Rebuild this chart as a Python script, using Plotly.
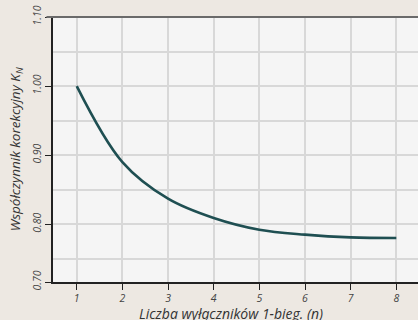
import plotly.graph_objects as go

# liczba wyłączników 1-biegunowych
n = [1, 2, 3, 4, 5, 6, 7, 8]
# współczynnik korekcyjny K_N
k_n = [1.000, 0.890, 0.837, 0.809, 0.792, 0.785, 0.781, 0.780]

# y axis in the original is cut a bit above 0.70 - label sits on the axis line
y_bottom = 0.7164
y_tick_vals = [y_bottom, 0.80, 0.90, 1.00, 1.10]
y_tick_text = ["0.70", "0.80", "0.90", "1.00", "1.10"]
y_minor_grid = [0.75, 0.85, 0.95, 1.05]

x_title = "Liczba wyłączników 1-bieg. (n)"
y_title = "Współczynnik korekcyjny K<sub>N</sub>"

fig = go.Figure()
fig.add_trace(go.Scatter(
    x=n, y=k_n,
    mode="lines",
    line=dict(color="#1f4f52", width=2.6, shape="spline", smoothing=1.0),
    hoverinfo="skip",
))

font_family = "Open Sans, Noto Sans, sans-serif"
tick_font = dict(size=10.5, family=font_family, style="italic", color="#444")

fig.update_layout(
    width=418, height=320,
    margin=dict(l=53, r=0, t=17, b=38),
    paper_bgcolor="#ede8e2",
    plot_bgcolor="#f5f5f5",
    showlegend=False,
    font=dict(family=font_family, color="#333333"),
    xaxis=dict(
        range=[0.48, 8.475],
        tickvals=n,
        automargin=False,
        ticks="outside", ticklen=6, tickwidth=1.3, tickcolor="#222",
        showline=True, linecolor="#222", linewidth=1.6,
        showgrid=True, gridcolor="#d8d8d8", gridwidth=1.6,
        zeroline=False,
        tickfont=tick_font,
    ),
    yaxis=dict(
        range=[y_bottom, 1.10],
        tickvals=y_tick_vals, ticktext=y_tick_text,
        tickangle=-90,
        automargin=False,
        ticks="outside", ticklen=6, tickwidth=1.3, tickcolor="#222",
        showline=True, linecolor="#222", linewidth=1.6,
        showgrid=True, gridcolor="#d8d8d8", gridwidth=1.6,
        zeroline=False,
        minor=dict(tickvals=y_minor_grid, showgrid=True, gridcolor="#d8d8d8",
                   gridwidth=1.6, ticks=""),
        tickfont=tick_font,
    ),
)

# tytuły osi jako adnotacje
fig.add_annotation(text=x_title, xref="paper", yref="paper",
                   x=0.488, y=-0.117, yanchor="middle", showarrow=False,
                   font=dict(size=14, style="italic", color="#333"))
fig.add_annotation(text=y_title, xref="paper", yref="paper",
                   x=-0.102, y=0.5, xanchor="center", yanchor="middle",
                   textangle=-90, showarrow=False,
                   font=dict(size=13.5, style="italic", color="#333"))

# górna krawędź wykresu (szara linia)
fig.add_shape(type="line", xref="paper", yref="paper",
              x0=-0.018, x1=1, y0=1, y1=1,
              line=dict(color="#6a6a6a", width=2))

# bez marginesu strony, żeby wykres zaczynał się w rogu okna
fig.write_html("out.html",
               config={"displayModeBar": False},
               post_script="document.body.style.margin='0';document.body.style.background='#ede8e2';")
